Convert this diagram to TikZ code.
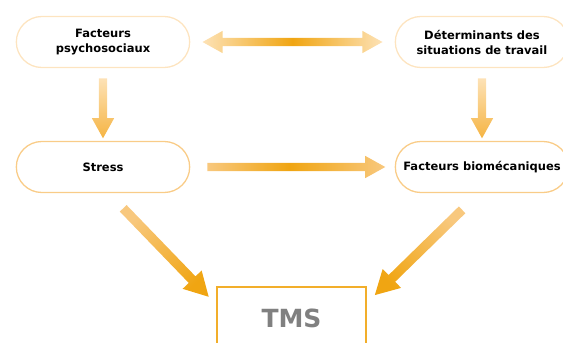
\documentclass[tikz,border=0pt]{standalone}
\usepackage{fontspec}
\setmainfont{DejaVu Sans}
\usetikzlibrary{
  shapes.misc,
  shapes.arrows
}
\definecolor{orDark}{HTML}{F0A512}
\definecolor{orHead}{HTML}{F5B443}
\definecolor{orMid}{HTML}{F8C87E}
\definecolor{orLight}{HTML}{FDE2B6}
\definecolor{boxLight}{HTML}{FDE4C0}
\definecolor{boxMid}{HTML}{F9CC88}
\definecolor{tmsLine}{HTML}{F2AE2A}
\definecolor{tmsText}{HTML}{808080}
\pgfdeclarehorizontalshading{bothEnds}{100bp}{color(0bp)=(orLight); color(25bp)=(orLight);
  color(50bp)=(orDark); color(75bp)=(orLight); color(100bp)=(orLight)}
\pgfdeclarehorizontalshading{midBar}{100bp}{color(0bp)=(orMid); color(25bp)=(orMid);
  color(48bp)=(orDark); color(75bp)=(orMid); color(100bp)=(orMid)}
\pgfdeclarehorizontalshading{tailHead}{100bp}{color(0bp)=(orMid); color(25bp)=(orMid);
  color(75bp)=(orDark); color(100bp)=(orDark)}

\begin{document}
\begin{tikzpicture}[x=1pt, y=-1pt,
  box/.style = {rounded rectangle, draw=boxMid, line width=1.3pt,
    minimum width=180pt, minimum height=51pt, align=center,
    font=\bfseries\fontsize{11.5}{15}\selectfont},
  tmsbox/.style = {rectangle, draw=tmsLine, line width=1.3pt,
    minimum width=149pt, minimum height=62pt, text=tmsText,
    font=\bfseries\fontsize{25}{25}\selectfont},
  fat/.style = {single arrow, inner xsep=0pt, inner ysep=4pt,
    single arrow head extend=7pt, single arrow tip angle=58,
    sloped, allow upside down},
  dbl/.style = {double arrow, inner xsep=0pt, inner ysep=4pt,
    double arrow head extend=7pt, double arrow tip angle=58},
  diag/.style = {fat, inner ysep=4.5pt, single arrow head extend=8.5pt,
    shade, shading=tailHead}]
  \useasboundingbox (0,0) rectangle (563,343);

  \node[box, draw=boxLight] (psy) at (103,42) {Facteurs\\psychosociaux};
  \node[box, draw=boxLight] (det) at (482,42) {Déterminants des\\situations de travail};
  \node[box] (str) at (103,167) {Stress};
  \node[box] (bio) at (482,167) {Facteurs biomécaniques};
  \node[tmsbox] (tms) at (291.5,318) {TMS};

  \coordinate (strOut) at (120,205);
  \coordinate (tmsInL) at (206,294);
  \coordinate (bioOut) at (465,207);
  \coordinate (tmsInR) at (378,292);

  \path (psy) -- (det) node[midway, dbl, minimum height=180pt,
    shade, shading=bothEnds] {};
  \path (psy) -- (str) node[midway, fat, minimum height=60pt,
    top color=orLight, bottom color=orHead] {};
  \path (det) -- (bio) node[midway, fat, minimum height=60pt,
    top color=orLight, bottom color=orHead] {};
  \path (str) -- (bio) node[midway, fat, minimum height=178pt,
    shade, shading=midBar] {};
  \path (strOut) -- (tmsInL) node[midway, diag, minimum height=123pt,
    shading angle=-45] {};
  \path (bioOut) -- (tmsInR) node[midway, diag, minimum height=122pt,
    shading angle=-135] {};
\end{tikzpicture}
\end{document}
